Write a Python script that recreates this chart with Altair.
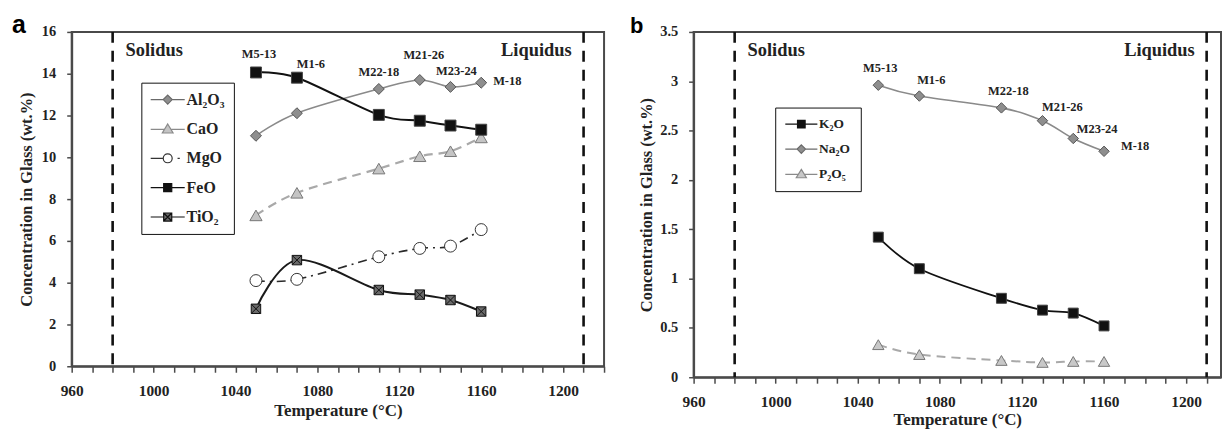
import altair as alt
import pandas as pd

# ---------------- data ----------------
temps = [1050, 1070, 1110, 1130, 1145, 1160]
samples = ["M5-13", "M1-6", "M22-18", "M21-26", "M23-24", "M-18"]

series_a = ["Al₂O₃", "CaO", "MgO", "FeO", "TiO₂"]
al2o3 = [11.03, 12.11, 13.27, 13.70, 13.37, 13.57]
cao = [7.22, 8.30, 9.46, 10.05, 10.29, 10.95]
mgo = [4.10, 4.16, 5.24, 5.64, 5.75, 6.54]
feo = [14.06, 13.81, 12.03, 11.75, 11.52, 11.32]
tio2 = [2.75, 5.08, 3.65, 3.43, 3.17, 2.62]
values_a = [al2o3, cao, mgo, feo, tio2]

series_b = ["K₂O", "Na₂O", "P₂O₅"]
k2o = [1.42, 1.10, 0.80, 0.68, 0.65, 0.52]
na2o = [2.96, 2.85, 2.73, 2.60, 2.42, 2.29]
p2o5 = [0.33, 0.23, 0.17, 0.15, 0.16, 0.16]
values_b = [k2o, na2o, p2o5]

boundary_temps = [980, 1210]
boundary_names = ["Solidus", "Liquidus"]

x_ticks_a = list(range(960, 1221, 10))
x_ticks_b = list(range(960, 1211, 10))
y_ticks_a = list(range(0, 17, 2))
y_ticks_b = [0, 0.5, 1, 1.5, 2, 2.5, 3, 3.5]

# ---------------- styles ----------------
SERIF = "Liberation Serif"
XBOX = "M-1,-1H1V1H-1ZM-1,-1L1,1M1,-1L-1,1"

LEG_PATHS = {
    "diamond": "M-3.8,0L-1,0M1,0L3.8,0M0,-1L1,0L0,1L-1,0Z",
    "triangle": "M-3.8,0.1L-0.7,0.1M0.7,0.1L3.8,0.1M0,-1.1L1.2,0.9L-1.2,0.9Z",
    "circle": "M-3.8,0L-1,0M1,0A1,1 0 1 1 -1,0A1,1 0 1 1 1,0ZM2.2,0L2.7,0",
    "square": "M-3.8,0L-0.9,0M0.9,0L3.8,0M-0.9,-0.9H0.9V0.9H-0.9Z",
    "xbox": "M-3.8,0L-0.9,0M0.9,0L3.8,0M-0.9,-0.9H0.9V0.9H-0.9ZM-0.9,-0.9L0.9,0.9M0.9,-0.9L-0.9,0.9",
}

styles_a = {
    "Al₂O₃": dict(line="#8a8a8a", width=1.6, dash=None, shape="diamond", size=121,
                  fill="#8e8e8e", stroke="#555555", leg="diamond", legstroke="#6a6a6a"),
    "CaO": dict(line="#a9a9a9", width=2.2, dash=[9, 6], shape="triangle-up", size=150,
                fill="#c4c4c4", stroke="#777777", leg="triangle", legstroke="#8a8a8a"),
    "MgO": dict(line="#2a2a2a", width=1.6, dash=[9, 5, 2, 5], shape="circle", size=144,
                fill="#ffffff", stroke="#333333", leg="circle", legstroke="#333333"),
    "FeO": dict(line="#111111", width=2.0, dash=None, shape="square", size=121,
                fill="#111111", stroke="#444444", leg="square", legstroke="#111111"),
    "TiO₂": dict(line="#1a1a1a", width=2.0, dash=None, shape=XBOX, size=90,
                 fill="#6a6a6a", stroke="#111111", leg="xbox", legstroke="#111111"),
}
styles_b = {
    "K₂O": dict(line="#111111", width=1.8, dash=None, shape="square", size=100,
                fill="#111111", stroke="#444444", leg="square", legstroke="#111111"),
    "Na₂O": dict(line="#8a8a8a", width=1.6, dash=None, shape="diamond", size=110,
                 fill="#8e8e8e", stroke="#555555", leg="diamond", legstroke="#6a6a6a"),
    "P₂O₅": dict(line="#a9a9a9", width=2.0, dash=[9, 6], shape="triangle-up", size=130,
                 fill="#c8c8c8", stroke="#777777", leg="triangle", legstroke="#8a8a8a"),
}

label_dx_a = [3, 14, 0, 4, 6, 12]
label_dy_a = [-19, -14, -17, -25, -16, -2]
label_dx_b = [2, 12, 7, 20, 24, 17]
label_dy_b = [-17, -16, -17, -14, -10, -5]
label_align = ["center", "center", "center", "center", "center", "left"]


def build_panel(letter, names, values, styles, xdom, xticks, ydom, yticks,
                width, height, ytitle_x, xtitle_y, letter_dx, letter_size,
                legend_kw, label_dx, label_dy, label_size):
    rows = []
    for name, vals in zip(names, values):
        for t, v in zip(temps, vals):
            rows.append({"series": name, "temp": t, "value": v})
    df = pd.DataFrame(rows)

    xscale = alt.Scale(domain=xdom, nice=False, zero=False)
    yscale = alt.Scale(domain=ydom, nice=False, zero=False)
    xaxis = alt.Axis(values=xticks, format="d",
                     labelExpr="datum.value % 40 == 0 && datum.value <= 1200 ? datum.label : ''",
                     labelOverlap=False, labelFlush=False,
                     title="Temperature (°C)", titleY=xtitle_y, titleBaseline="middle")
    yaxis = alt.Axis(values=yticks, format="~g", labelOverlap=False, labelFlush=False,
                     title="Concentration in Glass (wt.%)", titleX=ytitle_x,
                     titleY=height / 2, titleAngle=270, titleAlign="center",
                     titleBaseline="middle")
    X = alt.X("temp:Q", scale=xscale, axis=xaxis)
    Y = alt.Y("value:Q", scale=yscale, axis=yaxis)

    layers = []
    bdf = pd.DataFrame({"temp": boundary_temps, "name": boundary_names})
    layers.append(alt.Chart(bdf).mark_rule(color="#111111", strokeWidth=2.6,
                                           strokeDash=[11, 8]).encode(x=X))
    layers.append(alt.Chart(bdf).transform_filter(alt.datum.name == "Solidus")
                  .mark_text(align="left", baseline="alphabetic", dx=13, font=SERIF,
                             fontWeight="bold", fontSize=18.5, color="#222222")
                  .encode(x=X, y=alt.value(24), text="name:N"))
    layers.append(alt.Chart(bdf).transform_filter(alt.datum.name == "Liquidus")
                  .mark_text(align="right", baseline="alphabetic", dx=-12, font=SERIF,
                             fontWeight="bold", fontSize=18.5, color="#222222")
                  .encode(x=X, y=alt.value(24), text="name:N"))

    for name in names:
        s = styles[name]
        kw = dict(color=s["line"], strokeWidth=s["width"], interpolate="cardinal")
        if s["dash"]:
            kw["strokeDash"] = s["dash"]
        layers.append(alt.Chart(df).transform_filter(alt.datum.series == name)
                      .mark_line(**kw).encode(x=X, y=Y))
    for name in names:
        s = styles[name]
        layers.append(alt.Chart(df).transform_filter(alt.datum.series == name)
                      .mark_point(shape=s["shape"], size=s["size"], filled=True,
                                  fill=s["fill"], stroke=s["stroke"], strokeWidth=1,
                                  opacity=1)
                      .encode(x=X, y=Y))

    tops = [max(v[i] for v in values) for i in range(len(temps))]
    ldf = pd.DataFrame({"temp": temps, "value": tops, "sample": samples})
    for i, smp in enumerate(samples):
        layers.append(alt.Chart(ldf).transform_filter(alt.datum.sample == smp)
                      .mark_text(align=label_align[i], baseline="middle",
                                 dx=label_dx[i], dy=label_dy[i], font=SERIF,
                                 fontWeight="bold", fontSize=label_size, color="#222222")
                      .encode(x=X, y=Y, text="sample:N"))

    layers.append(alt.Chart(pd.DataFrame({"t": [letter]}))
                  .mark_text(align="left", baseline="alphabetic", font="Liberation Sans",
                             fontWeight="bold", fontSize=letter_size, color="#000000")
                  .encode(x=alt.value(letter_dx), y=alt.value(1), text="t:N"))

    leg = alt.Legend(title=None, orient="none", **legend_kw)
    paths = [LEG_PATHS[styles[n]["leg"]] for n in names]
    fills = [styles[n]["fill"] for n in names]
    strokes = [styles[n]["legstroke"] for n in names]
    layers.append(alt.Chart(df).transform_filter("false")
                  .mark_point(filled=True, opacity=1, size=legend_kw["symbolSize"])
                  .encode(shape=alt.Shape("series:N", scale=alt.Scale(domain=names, range=paths), legend=leg),
                          fill=alt.Fill("series:N", scale=alt.Scale(domain=names, range=fills), legend=leg),
                          stroke=alt.Stroke("series:N", scale=alt.Scale(domain=names, range=strokes), legend=leg)))

    return alt.layer(*layers).properties(width=width, height=height)


legend_common = dict(strokeColor="#111111", fillColor="#ffffff", labelFont=SERIF,
                     labelFontWeight="bold", labelColor="#222222", symbolStrokeWidth=1.2,
                     symbolOffset=9.5, labelOffset=11)

pa = build_panel("a", series_a, values_a, styles_a, [960, 1220], x_ticks_a, [0, 16], y_ticks_a,
                 535, 336, -45, 44, -60, 25,
                 dict(legend_common, legendX=70, legendY=51, padding=9, rowPadding=13.5,
                      labelFontSize=16, symbolSize=81),
                 label_dx_a, label_dy_a, 12.5)
pb = build_panel("b", series_b, values_b, styles_b, [960, 1217], x_ticks_b, [0, 3.5], y_ticks_b,
                 530, 347, -47, 43, -64, 22,
                 dict(legend_common, legendX=82, legendY=76, padding=10, rowPadding=10,
                      labelFontSize=13.5, symbolSize=72),
                 label_dx_b, label_dy_b, 12.5)

chart = (alt.hconcat(pa, pb, spacing=90, bounds="flush")
         .resolve_scale(shape="independent", fill="independent", stroke="independent")
         .resolve_legend(shape="independent", fill="independent", stroke="independent")
         .properties(padding={"left": 3, "top": 3, "right": 0, "bottom": 0}, background="white")
         .configure_view(stroke="#4a4a4a", strokeWidth=2)
         .configure_axis(grid=False, domainColor="#4a4a4a", domainWidth=2, tickColor="#4a4a4a",
                         tickWidth=1.5, labelFont=SERIF, labelFontWeight="bold", labelColor="#222222",
                         titleFont=SERIF, titleFontWeight="bold", titleColor="#222222")
         .configure_axisX(tickSize=6, labelPadding=11, labelFontSize=15.5, titleFontSize=17)
         .configure_axisY(tickSize=5, labelPadding=11, labelFontSize=14.5, titleFontSize=16.5))

chart.save("out.html", embed_options={"renderer": "svg", "actions": False})
